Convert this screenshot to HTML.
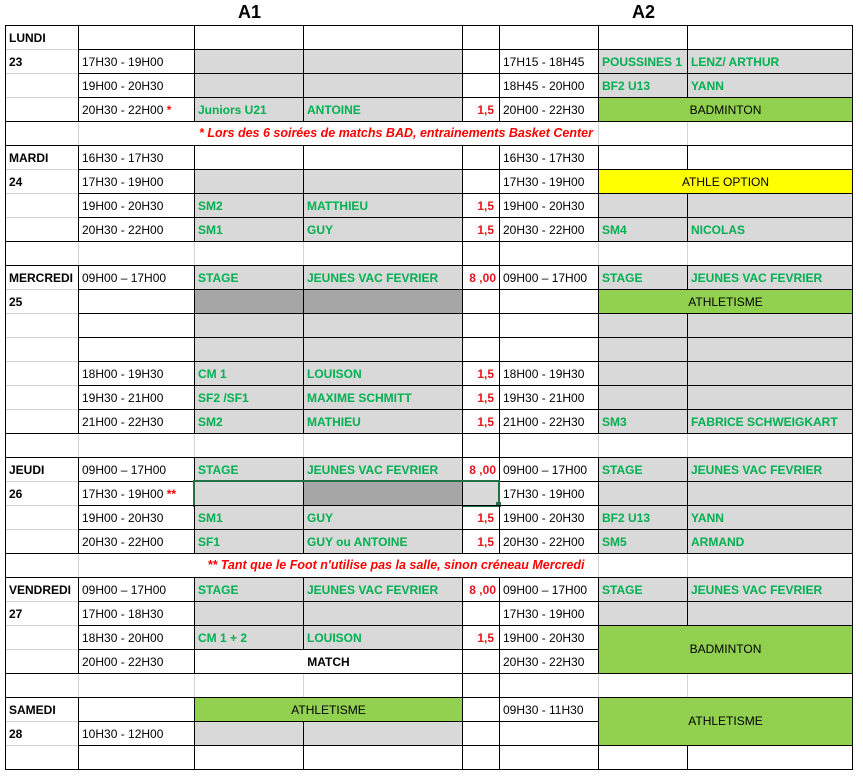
<!DOCTYPE html>
<html><head><meta charset="utf-8"><style>
body{margin:0;width:863px;height:778px;background:#fff;position:relative;overflow:hidden;font-family:"Liberation Sans",Arial,sans-serif;font-size:12px;color:#000}
.c{position:absolute;box-sizing:border-box;border:1px solid #000;height:25px;line-height:24px;padding-left:3px;white-space:nowrap;overflow:hidden}
.g{background:#d9d9d9}.d{background:#a6a6a6}.gr{background:#92d050;text-align:center;padding:0}.y{background:#ffff00;text-align:center;padding:0}
.t{color:#00b050;font-weight:bold}.r{color:#e8141c;font-weight:bold;text-align:right;padding-right:5px}
.b{font-weight:bold}.ctr{text-align:center;padding:0}
.h{position:absolute;font-weight:bold;font-size:18px;top:2px}
.day{position:absolute;box-sizing:border-box;border:1px solid #000;left:5px;width:74px;font-weight:bold;padding-left:3px;line-height:24px}
.note{position:absolute;left:194px;width:404px;text-align:center;color:#ff0000;font-style:italic;font-weight:bold;line-height:24px;font-size:12.5px}
.s{color:#ff0000;font-weight:bold}
.lv{position:absolute;width:1px;height:23px;background:#d4d4d4}
.lh{position:absolute;left:6px;width:72px;height:1px;background:#d4d4d4}
</style></head><body>
<div class="h" style="left:238px">A1</div>
<div class="h" style="left:632px">A2</div>

<!-- day blocks -->
<div class="day" style="top:25px;height:97px">LUNDI<br>23</div>
<div class="day" style="top:145px;height:97px">MARDI<br>24</div>
<div class="day" style="top:265px;height:169px">MERCREDI<br>25</div>
<div class="day" style="top:457px;height:97px">JEUDI<br>26</div>
<div class="day" style="top:577px;height:97px">VENDREDI<br>27</div>
<div class="day" style="top:697px;height:73px">SAMEDI<br>28</div>
<div class="lh" style="top:49px"></div><div class="lh" style="top:73px"></div><div class="lh" style="top:97px"></div>
<div class="lh" style="top:169px"></div><div class="lh" style="top:193px"></div><div class="lh" style="top:217px"></div>
<div class="lh" style="top:289px"></div><div class="lh" style="top:313px"></div><div class="lh" style="top:337px"></div><div class="lh" style="top:361px"></div><div class="lh" style="top:385px"></div><div class="lh" style="top:409px"></div>
<div class="lh" style="top:481px"></div><div class="lh" style="top:505px"></div><div class="lh" style="top:529px"></div>
<div class="lh" style="top:601px"></div><div class="lh" style="top:625px"></div><div class="lh" style="top:649px"></div>
<div class="lh" style="top:721px"></div><div class="lh" style="top:745px"></div>

<!-- row 0 -->
<div class="c" style="left:78px;top:25px;width:117px"></div>
<div class="c" style="left:194px;top:25px;width:110px"></div>
<div class="c" style="left:303px;top:25px;width:160px"></div>
<div class="c" style="left:462px;top:25px;width:38px"></div>
<div class="c" style="left:499px;top:25px;width:100px"></div>
<div class="c" style="left:598px;top:25px;width:90px"></div>
<div class="c" style="left:687px;top:25px;width:166px"></div>
<!-- row 1 -->
<div class="c" style="left:78px;top:49px;width:117px">17H30 - 19H00</div>
<div class="c g" style="left:194px;top:49px;width:110px"></div>
<div class="c g" style="left:303px;top:49px;width:160px"></div>
<div class="c" style="left:462px;top:49px;width:38px"></div>
<div class="c" style="left:499px;top:49px;width:100px">17H15 - 18H45</div>
<div class="c g t" style="left:598px;top:49px;width:90px">POUSSINES 1</div>
<div class="c g t" style="left:687px;top:49px;width:166px">LENZ/ ARTHUR</div>
<!-- row 2 -->
<div class="c" style="left:78px;top:73px;width:117px">19H00 - 20H30</div>
<div class="c g" style="left:194px;top:73px;width:110px"></div>
<div class="c g" style="left:303px;top:73px;width:160px"></div>
<div class="c" style="left:462px;top:73px;width:38px"></div>
<div class="c" style="left:499px;top:73px;width:100px">18H45 - 20H00</div>
<div class="c g t" style="left:598px;top:73px;width:90px">BF2 U13</div>
<div class="c g t" style="left:687px;top:73px;width:166px">YANN</div>
<!-- row 3 -->
<div class="c" style="left:78px;top:97px;width:117px">20H30 - 22H00 <span class="s">*</span></div>
<div class="c g t" style="left:194px;top:97px;width:110px">Juniors U21</div>
<div class="c g t" style="left:303px;top:97px;width:160px">ANTOINE</div>
<div class="c r" style="left:462px;top:97px;width:38px">1,5</div>
<div class="c" style="left:499px;top:97px;width:100px">20H00 - 22H30</div>
<div class="c gr" style="left:598px;top:97px;width:255px">BADMINTON</div>
<!-- row 4 note -->
<div class="c" style="left:5px;top:121px;width:848px"></div>
<div class="lv" style="left:78px;top:122px"></div><div class="lv" style="left:598px;top:122px"></div><div class="lv" style="left:687px;top:122px"></div>
<div class="note" style="top:121px">* Lors des 6 soirées de matchs BAD, entrainements Basket Center</div>
<!-- row 5 -->
<div class="c" style="left:78px;top:145px;width:117px">16H30 - 17H30</div>
<div class="c" style="left:194px;top:145px;width:110px"></div>
<div class="c" style="left:303px;top:145px;width:160px"></div>
<div class="c" style="left:462px;top:145px;width:38px"></div>
<div class="c" style="left:499px;top:145px;width:100px">16H30 - 17H30</div>
<div class="c" style="left:598px;top:145px;width:90px"></div>
<div class="c" style="left:687px;top:145px;width:166px"></div>
<!-- row 6 -->
<div class="c" style="left:78px;top:169px;width:117px">17H30 - 19H00</div>
<div class="c g" style="left:194px;top:169px;width:110px"></div>
<div class="c g" style="left:303px;top:169px;width:160px"></div>
<div class="c" style="left:462px;top:169px;width:38px"></div>
<div class="c" style="left:499px;top:169px;width:100px">17H30 - 19H00</div>
<div class="c y" style="left:598px;top:169px;width:255px">ATHLE OPTION</div>
<!-- row 7 -->
<div class="c" style="left:78px;top:193px;width:117px">19H00 - 20H30</div>
<div class="c g t" style="left:194px;top:193px;width:110px">SM2</div>
<div class="c g t" style="left:303px;top:193px;width:160px">MATTHIEU</div>
<div class="c r" style="left:462px;top:193px;width:38px">1,5</div>
<div class="c" style="left:499px;top:193px;width:100px">19H00 - 20H30</div>
<div class="c g" style="left:598px;top:193px;width:90px"></div>
<div class="c g" style="left:687px;top:193px;width:166px"></div>
<!-- row 8 -->
<div class="c" style="left:78px;top:217px;width:117px">20H30 - 22H00</div>
<div class="c g t" style="left:194px;top:217px;width:110px">SM1</div>
<div class="c g t" style="left:303px;top:217px;width:160px">GUY</div>
<div class="c r" style="left:462px;top:217px;width:38px">1,5</div>
<div class="c" style="left:499px;top:217px;width:100px">20H30 - 22H00</div>
<div class="c g t" style="left:598px;top:217px;width:90px">SM4</div>
<div class="c g t" style="left:687px;top:217px;width:166px">NICOLAS</div>
<!-- row 9 blank -->
<div class="c" style="left:5px;top:241px;width:458px"></div>
<div class="c" style="left:462px;top:241px;width:38px"></div>
<div class="c" style="left:499px;top:241px;width:354px"></div>
<div class="lv" style="left:78px;top:242px"></div><div class="lv" style="left:194px;top:242px"></div><div class="lv" style="left:303px;top:242px"></div><div class="lv" style="left:598px;top:242px"></div><div class="lv" style="left:687px;top:242px"></div>
<!-- row 10 -->
<div class="c" style="left:78px;top:265px;width:117px">09H00 – 17H00</div>
<div class="c g t" style="left:194px;top:265px;width:110px">STAGE</div>
<div class="c g t" style="left:303px;top:265px;width:160px">JEUNES VAC FEVRIER</div>
<div class="c r" style="left:462px;top:265px;width:38px;padding:0 3px 0 0">8 ,00</div>
<div class="c" style="left:499px;top:265px;width:100px">09H00 – 17H00</div>
<div class="c g t" style="left:598px;top:265px;width:90px">STAGE</div>
<div class="c g t" style="left:687px;top:265px;width:166px">JEUNES VAC FEVRIER</div>
<!-- row 11 -->
<div class="c" style="left:78px;top:289px;width:117px"></div>
<div class="c d" style="left:194px;top:289px;width:110px"></div>
<div class="c d" style="left:303px;top:289px;width:160px"></div>
<div class="c" style="left:462px;top:289px;width:38px"></div>
<div class="c" style="left:499px;top:289px;width:100px"></div>
<div class="c gr" style="left:598px;top:289px;width:255px">ATHLETISME</div>
<!-- row 12 -->
<div class="c" style="left:78px;top:313px;width:117px"></div>
<div class="c g" style="left:194px;top:313px;width:110px"></div>
<div class="c g" style="left:303px;top:313px;width:160px"></div>
<div class="c" style="left:462px;top:313px;width:38px"></div>
<div class="c" style="left:499px;top:313px;width:100px"></div>
<div class="c g" style="left:598px;top:313px;width:90px"></div>
<div class="c g" style="left:687px;top:313px;width:166px"></div>
<!-- row 13 -->
<div class="c" style="left:78px;top:337px;width:117px"></div>
<div class="c g" style="left:194px;top:337px;width:110px"></div>
<div class="c g" style="left:303px;top:337px;width:160px"></div>
<div class="c" style="left:462px;top:337px;width:38px"></div>
<div class="c" style="left:499px;top:337px;width:100px"></div>
<div class="c g" style="left:598px;top:337px;width:90px"></div>
<div class="c g" style="left:687px;top:337px;width:166px"></div>
<!-- row 14 -->
<div class="c" style="left:78px;top:361px;width:117px">18H00 - 19H30</div>
<div class="c g t" style="left:194px;top:361px;width:110px">CM 1</div>
<div class="c g t" style="left:303px;top:361px;width:160px">LOUISON</div>
<div class="c r" style="left:462px;top:361px;width:38px">1,5</div>
<div class="c" style="left:499px;top:361px;width:100px">18H00 - 19H30</div>
<div class="c g" style="left:598px;top:361px;width:90px"></div>
<div class="c g" style="left:687px;top:361px;width:166px"></div>
<!-- row 15 -->
<div class="c" style="left:78px;top:385px;width:117px">19H30 - 21H00</div>
<div class="c g t" style="left:194px;top:385px;width:110px">SF2 /SF1</div>
<div class="c g t" style="left:303px;top:385px;width:160px">MAXIME SCHMITT</div>
<div class="c r" style="left:462px;top:385px;width:38px">1,5</div>
<div class="c" style="left:499px;top:385px;width:100px">19H30 - 21H00</div>
<div class="c g" style="left:598px;top:385px;width:90px"></div>
<div class="c g" style="left:687px;top:385px;width:166px"></div>
<!-- row 16 -->
<div class="c" style="left:78px;top:409px;width:117px">21H00 - 22H30</div>
<div class="c g t" style="left:194px;top:409px;width:110px">SM2</div>
<div class="c g t" style="left:303px;top:409px;width:160px">MATHIEU</div>
<div class="c r" style="left:462px;top:409px;width:38px">1,5</div>
<div class="c" style="left:499px;top:409px;width:100px">21H00 - 22H30</div>
<div class="c g t" style="left:598px;top:409px;width:90px">SM3</div>
<div class="c g t" style="left:687px;top:409px;width:166px">FABRICE SCHWEIGKART</div>
<!-- row 17 blank -->
<div class="c" style="left:5px;top:433px;width:458px"></div>
<div class="c" style="left:462px;top:433px;width:38px"></div>
<div class="c" style="left:499px;top:433px;width:354px"></div>
<div class="lv" style="left:78px;top:434px"></div><div class="lv" style="left:194px;top:434px"></div><div class="lv" style="left:303px;top:434px"></div><div class="lv" style="left:598px;top:434px"></div><div class="lv" style="left:687px;top:434px"></div>
<!-- row 18 -->
<div class="c" style="left:78px;top:457px;width:117px">09H00 – 17H00</div>
<div class="c g t" style="left:194px;top:457px;width:110px">STAGE</div>
<div class="c g t" style="left:303px;top:457px;width:160px">JEUNES VAC FEVRIER</div>
<div class="c r" style="left:462px;top:457px;width:38px;padding:0 3px 0 0">8 ,00</div>
<div class="c" style="left:499px;top:457px;width:100px">09H00 – 17H00</div>
<div class="c g t" style="left:598px;top:457px;width:90px">STAGE</div>
<div class="c g t" style="left:687px;top:457px;width:166px">JEUNES VAC FEVRIER</div>
<!-- row 19 -->
<div class="c" style="left:78px;top:481px;width:117px">17H30 - 19H00 <span class="s">**</span></div>
<div class="c g" style="left:194px;top:481px;width:110px"></div>
<div class="c d" style="left:303px;top:481px;width:160px"></div>
<div class="c g" style="left:462px;top:481px;width:38px"></div>
<div class="c" style="left:499px;top:481px;width:100px">17H30 - 19H00</div>
<div class="c g" style="left:598px;top:481px;width:90px"></div>
<div class="c g" style="left:687px;top:481px;width:166px"></div>
<div style="position:absolute;left:193px;top:480px;width:303px;height:23px;border:2px solid #217346"></div>
<div style="position:absolute;left:496px;top:502px;width:5px;height:5px;background:#217346"></div>
<!-- row 20 -->
<div class="c" style="left:78px;top:505px;width:117px">19H00 - 20H30</div>
<div class="c g t" style="left:194px;top:505px;width:110px">SM1</div>
<div class="c g t" style="left:303px;top:505px;width:160px">GUY</div>
<div class="c r" style="left:462px;top:505px;width:38px">1,5</div>
<div class="c" style="left:499px;top:505px;width:100px">19H00 - 20H30</div>
<div class="c g t" style="left:598px;top:505px;width:90px">BF2 U13</div>
<div class="c g t" style="left:687px;top:505px;width:166px">YANN</div>
<!-- row 21 -->
<div class="c" style="left:78px;top:529px;width:117px">20H30 - 22H00</div>
<div class="c g t" style="left:194px;top:529px;width:110px">SF1</div>
<div class="c g t" style="left:303px;top:529px;width:160px">GUY ou ANTOINE</div>
<div class="c r" style="left:462px;top:529px;width:38px">1,5</div>
<div class="c" style="left:499px;top:529px;width:100px">20H30 - 22H00</div>
<div class="c g t" style="left:598px;top:529px;width:90px">SM5</div>
<div class="c g t" style="left:687px;top:529px;width:166px">ARMAND</div>
<!-- row 22 note -->
<div class="c" style="left:5px;top:553px;width:848px"></div>
<div class="lv" style="left:78px;top:554px"></div><div class="lv" style="left:598px;top:554px"></div><div class="lv" style="left:687px;top:554px"></div>
<div class="note" style="top:553px">** Tant que le Foot n'utilise pas la salle, sinon créneau Mercredi</div>
<!-- row 23 -->
<div class="c" style="left:78px;top:577px;width:117px">09H00 – 17H00</div>
<div class="c g t" style="left:194px;top:577px;width:110px">STAGE</div>
<div class="c g t" style="left:303px;top:577px;width:160px">JEUNES VAC FEVRIER</div>
<div class="c r" style="left:462px;top:577px;width:38px;padding:0 3px 0 0">8 ,00</div>
<div class="c" style="left:499px;top:577px;width:100px">09H00 – 17H00</div>
<div class="c g t" style="left:598px;top:577px;width:90px">STAGE</div>
<div class="c g t" style="left:687px;top:577px;width:166px">JEUNES VAC FEVRIER</div>
<!-- row 24 -->
<div class="c" style="left:78px;top:601px;width:117px">17H00 - 18H30</div>
<div class="c g" style="left:194px;top:601px;width:110px"></div>
<div class="c g" style="left:303px;top:601px;width:160px"></div>
<div class="c" style="left:462px;top:601px;width:38px"></div>
<div class="c" style="left:499px;top:601px;width:100px">17H30 - 19H00</div>
<div class="c g" style="left:598px;top:601px;width:90px"></div>
<div class="c g" style="left:687px;top:601px;width:166px"></div>
<!-- row 25 -->
<div class="c" style="left:78px;top:625px;width:117px">18H30 - 20H00</div>
<div class="c g t" style="left:194px;top:625px;width:110px">CM 1 + 2</div>
<div class="c g t" style="left:303px;top:625px;width:160px">LOUISON</div>
<div class="c r" style="left:462px;top:625px;width:38px">1,5</div>
<div class="c" style="left:499px;top:625px;width:100px">19H00 - 20H30</div>
<div class="c gr" style="left:598px;top:625px;width:255px;height:49px;line-height:47px">BADMINTON</div>
<!-- row 26 -->
<div class="c" style="left:78px;top:649px;width:117px">20H00 - 22H30</div>
<div class="c b ctr" style="left:194px;top:649px;width:269px">MATCH</div>
<div class="c" style="left:462px;top:649px;width:38px"></div>
<div class="c" style="left:499px;top:649px;width:100px">20H30 - 22H30</div>
<!-- row 27 blank -->
<div class="c" style="left:5px;top:673px;width:458px"></div>
<div class="c" style="left:462px;top:673px;width:38px"></div>
<div class="c" style="left:499px;top:673px;width:354px"></div>
<div class="lv" style="left:78px;top:674px"></div><div class="lv" style="left:194px;top:674px"></div><div class="lv" style="left:303px;top:674px"></div><div class="lv" style="left:598px;top:674px"></div><div class="lv" style="left:687px;top:674px"></div>
<!-- row 28 -->
<div class="c" style="left:78px;top:697px;width:117px"></div>
<div class="c gr" style="left:194px;top:697px;width:269px">ATHLETISME</div>
<div class="c" style="left:462px;top:697px;width:38px"></div>
<div class="c" style="left:499px;top:697px;width:100px">09H30 - 11H30</div>
<div class="c gr" style="left:598px;top:697px;width:255px;height:49px;line-height:47px">ATHLETISME</div>
<!-- row 29 -->
<div class="c" style="left:78px;top:721px;width:117px">10H30 - 12H00</div>
<div class="c g" style="left:194px;top:721px;width:110px"></div>
<div class="c g" style="left:303px;top:721px;width:160px"></div>
<div class="c" style="left:462px;top:721px;width:38px"></div>
<div class="c" style="left:499px;top:721px;width:100px"></div>
<!-- row 30 -->
<div class="c" style="left:78px;top:745px;width:117px"></div>
<div class="c" style="left:194px;top:745px;width:110px"></div>
<div class="c" style="left:303px;top:745px;width:160px"></div>
<div class="c" style="left:462px;top:745px;width:38px"></div>
<div class="c" style="left:499px;top:745px;width:100px"></div>
<div class="c" style="left:598px;top:745px;width:90px"></div>
<div class="c" style="left:687px;top:745px;width:166px"></div>
</body></html>
